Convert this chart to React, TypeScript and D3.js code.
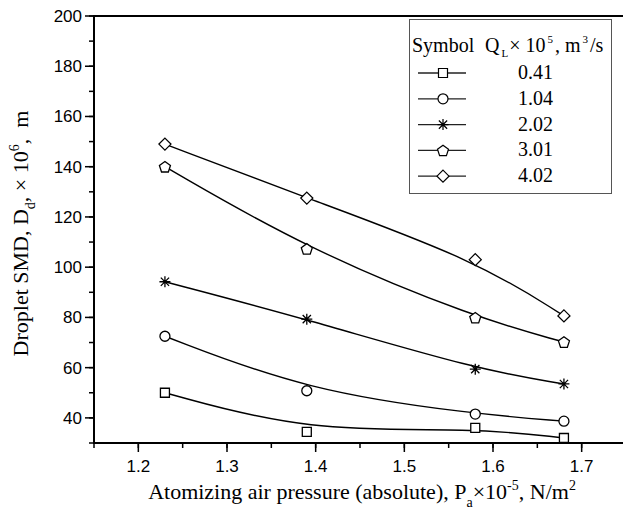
import React from 'react';
import * as d3 from 'd3';

// Values
const pressures = [1.23, 1.39, 1.58, 1.68];
const flowRates = ['0.41', '1.04', '2.02', '3.01', '4.02'];
const smd041 = [50, 34.4, 36, 32];
const smd104 = [72.5, 50.8, 41.5, 38.7];
const smd202 = [94.2, 79.3, 59.4, 53.5];
const smd301 = [140, 107.3, 79.9, 70.2];
const smd402 = [149, 127.5, 103, 80.6];
const symbols = ['square', 'circle', 'star', 'pentagon', 'diamond'];
const xTicks = [1.2, 1.3, 1.4, 1.5, 1.6, 1.7];
const yTicks = [40, 60, 80, 100, 120, 140, 160, 180, 200];

const allSeries = [smd041, smd104, smd202, smd301, smd402];

const width = 623;
const height = 513;
const margin = { left: 94, top: 16, bottom: 443 };

const x = d3.scaleLinear().domain([1.15, 1.75]).range([margin.left, 626]);
const y = d3.scaleLinear().domain([30, 200]).range([margin.bottom, margin.top]);

function markerPath(kind: string) {
  if (kind === 'square') {
    const s = 4.5;
    return `M${-s},${-s}H${s}V${s}H${-s}Z`;
  }
  if (kind === 'circle') {
    const r = 5;
    return `M${r},0A${r},${r} 0 1,1 ${-r},0A${r},${r} 0 1,1 ${r},0Z`;
  }
  if (kind === 'diamond') {
    const s = 6;
    return `M0,${-s}L${s},0L0,${s}L${-s},0Z`;
  }
  if (kind === 'pentagon') {
    const r = 5.8;
    const pts = d3.range(5).map((i) => {
      const a = -Math.PI / 2 + (i * 2 * Math.PI) / 5;
      return [r * Math.cos(a), r * Math.sin(a) + 0.6];
    });
    return 'M' + pts.map((p) => p.join(',')).join('L') + 'Z';
  }
  // star / asterisk
  const s = 5.5;
  const d = s * 0.75;
  return `M0,${-s}V${s}M${-s},0H${s}M${-d},${-d}L${d},${d}M${-d},${d}L${d},${-d}`;
}

// B-spline connection, like the original plot
const curve = d3
  .line<number>()
  .x((_, i) => x(pressures[i]))
  .y((d) => y(d))
  .curve(d3.curveBasis);

export default function App() {
  const xMinor = d3.range(1.15, 1.751, 0.05);
  const yMinor = d3.range(30, 200.1, 10);
  const serif = '"Liberation Serif", "Times New Roman", serif';
  const sans = '"Liberation Sans", Arial, sans-serif';

  return (
    <div style={{ position: 'absolute', left: 0, top: 0 }}>
      <svg width={width} height={height} style={{ display: 'block', background: '#fff' }}>
        {/* curves */}
        {allSeries.map((vals, i) => (
          <path key={'c' + i} d={curve(vals) || ''} fill="none" stroke="#000" strokeWidth={1.4} />
        ))}

        {/* axes frame */}
        <line x1={margin.left} x2={width} y1={margin.top} y2={margin.top} stroke="#000" strokeWidth={2} />
        <line x1={margin.left} x2={width} y1={margin.bottom} y2={margin.bottom} stroke="#000" strokeWidth={2} />
        <line x1={margin.left} x2={margin.left} y1={margin.top - 1} y2={margin.bottom + 1} stroke="#000" strokeWidth={2} />

        {/* x ticks */}
        {xMinor.map((t, i) => (
          <line key={'xm' + i} x1={x(t)} x2={x(t)} y1={margin.bottom} y2={margin.bottom + 5} stroke="#000" strokeWidth={1.5} />
        ))}
        {xTicks.map((t) => (
          <g key={'x' + t}>
            <line x1={x(t)} x2={x(t)} y1={margin.bottom} y2={margin.bottom + 9} stroke="#000" strokeWidth={1.5} />
            <text x={x(t)} y={472} textAnchor="middle" fontFamily={sans} fontSize={17}>
              {t.toFixed(1)}
            </text>
          </g>
        ))}

        {/* y ticks */}
        {yMinor.map((t, i) => (
          <line key={'ym' + i} x1={margin.left - 5} x2={margin.left} y1={y(t)} y2={y(t)} stroke="#000" strokeWidth={1.5} />
        ))}
        {yTicks.map((t) => (
          <g key={'y' + t}>
            <line x1={margin.left - 9} x2={margin.left} y1={y(t)} y2={y(t)} stroke="#000" strokeWidth={1.5} />
            <text x={82} y={y(t) + 6} textAnchor="end" fontFamily={sans} fontSize={17}>
              {t}
            </text>
          </g>
        ))}

        {/* markers */}
        {allSeries.map((vals, i) =>
          vals.map((v, j) => (
            <path
              key={`m${i}-${j}`}
              d={markerPath(symbols[i])}
              transform={`translate(${x(pressures[j])},${y(v)})`}
              fill="#fff"
              stroke="#000"
              strokeWidth={1.3}
            />
          ))
        )}

        {/* axis titles */}
        <text x={362} y={499} textAnchor="middle" fontFamily={serif} fontSize={22}>
          Atomizing air pressure (absolute), P
          <tspan fontSize={14} dy={8}>a</tspan>
          <tspan dy={-8}>×10</tspan>
          <tspan fontSize={14} dy={-9}>-5</tspan>
          <tspan dy={9}>, N/m</tspan>
          <tspan fontSize={14} dy={-9}>2</tspan>
        </text>
        <text
          transform={`translate(28,${(margin.top + margin.bottom) / 2 + 4}) rotate(-90)`}
          textAnchor="middle"
          fontFamily={serif}
          fontSize={22}
          style={{ whiteSpace: 'pre' }}
        >
          Droplet SMD, D
          <tspan fontSize={14} dy={7}>d</tspan>
          <tspan dy={-7}>, × 10</tspan>
          <tspan fontSize={14} dy={-9}>6</tspan>
          <tspan dy={9}>{',  m'}</tspan>
        </text>

        {/* legend */}
        <rect x={409.5} y={19.5} width={202} height={174} fill="#fff" stroke="#555" strokeWidth={1} />
        <text x={412} y={52} fontFamily={serif} fontSize={20}>
          Symbol
        </text>
        <text x={485} y={52} fontFamily={serif} fontSize={20}>
          Q
          <tspan fontSize={11} dy={5} dx={2}>L</tspan>
          <tspan dy={-5} dx={1}>× 10</tspan>
          <tspan fontSize={11} dy={-9} dx={2}>5</tspan>
          <tspan dy={9} dx={2}>, m</tspan>
          <tspan fontSize={11} dy={-9} dx={2}>3</tspan>
          <tspan dy={9} dx={2}>/s</tspan>
        </text>
        {flowRates.map((q, i) => {
          const cy = 73 + i * 25.8;
          return (
            <g key={'l' + q}>
              <line x1={418} x2={466} y1={cy} y2={cy} stroke="#222" strokeWidth={1.3} />
              <path d={markerPath(symbols[i])} transform={`translate(443,${cy})`} fill="#fff" stroke="#000" strokeWidth={1.2} />
              <text x={518} y={cy + 6} fontFamily={serif} fontSize={20}>
                {q}
              </text>
            </g>
          );
        })}
      </svg>
    </div>
  );
}
